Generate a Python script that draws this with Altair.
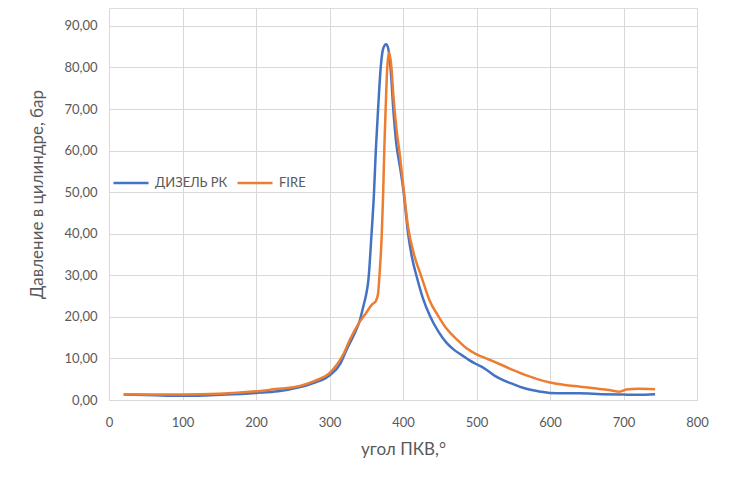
import altair as alt
import pandas as pd

# ДИЗЕЛЬ РК (blue)
diesel_x = [20, 50, 80, 100, 130, 160, 200, 230, 260, 280, 300, 315, 323, 333, 341, 346, 350, 353, 357, 360.5, 363, 366, 369.7, 373, 377, 380, 383, 387, 391, 396, 400.5, 407, 412, 418.6, 427, 436.7, 448, 459, 470, 480, 490, 500, 509, 525, 537, 550, 562, 575, 587, 600, 620, 640, 670, 700, 720, 743]
diesel_y = [1.3, 1.2, 1.05, 1.0, 1.1, 1.3, 1.7, 2.1, 3.1, 4.2, 5.9, 8.8, 12.0, 15.6, 19.0, 22.5, 25.5, 29.0, 39.4, 49.7, 60.0, 69.6, 80.0, 84.5, 85.6, 84.5, 80.0, 69.5, 61.5, 56.0, 50.5, 40.0, 34.5, 29.7, 24.5, 20.2, 16.5, 13.8, 12.0, 10.8, 9.6, 8.6, 7.8, 5.8, 4.7, 3.8, 3.0, 2.4, 2.0, 1.7, 1.6, 1.6, 1.4, 1.3, 1.25, 1.4]

# FIRE (orange)
fire_x = [20, 50, 100, 150, 200, 218, 222, 240, 260, 280, 300.7, 318.8, 328, 340, 350, 358, 363, 366, 368, 371, 373, 374.5, 376.3, 378.6, 381, 384, 387, 391.4, 396, 400.5, 407, 415, 425, 436, 448, 460, 473, 486, 500, 516, 532, 550, 570, 600, 620, 641, 660, 680, 695, 700, 704, 720, 743]
fire_y = [1.4, 1.35, 1.3, 1.5, 2.1, 2.4, 2.6, 2.8, 3.4, 4.6, 6.6, 11.0, 14.6, 18.5, 21.0, 23.0, 23.8, 25.5, 30.0, 39.4, 49.7, 60.0, 69.6, 80.0, 83.6, 80.5, 73.0, 64.8, 58.5, 51.3, 41.5, 35.0, 29.7, 24.0, 20.2, 17.0, 14.6, 12.5, 11.0, 9.8, 8.6, 7.2, 5.8, 4.2, 3.6, 3.2, 2.8, 2.4, 2.0, 2.3, 2.5, 2.7, 2.6]

series_names = ["ДИЗЕЛЬ РК", "FIRE"]
series_colors = ["#4472C4", "#ED7D31"]

x_ticks = [0, 100, 200, 300, 400, 500, 600, 700, 800]
y_ticks = [0, 10, 20, 30, 40, 50, 60, 70, 80, 90]

df = pd.concat([
    pd.DataFrame({"x": diesel_x, "y": diesel_y, "s": series_names[0], "o": 0}),
    pd.DataFrame({"x": fire_x, "y": fire_y, "s": series_names[1], "o": 1}),
])

FONT = "Lato"
GREY = "#595959"

chart = alt.Chart(df).mark_line(interpolate="monotone", strokeWidth=2.5).encode(
    x=alt.X("x:Q", scale=alt.Scale(domain=[0, 800], nice=False),
            axis=alt.Axis(values=x_ticks, format="d", title="угол ПКВ,°",
                          grid=True, gridColor="#d9d9d9", ticks=False,
                          domainColor="#d9d9d9", labelPadding=16, labelFlush=False,
                          labelFontSize=13, labelColor=GREY, labelFont=FONT,
                          titleFontSize=17, titleColor=GREY, titleFont=FONT,
                          titleFontWeight="normal", titlePadding=12)),
    y=alt.Y("y:Q", scale=alt.Scale(domain=[0, 94.3], nice=False, zero=True),
            axis=alt.Axis(values=y_ticks,
                          labelExpr="replace(format(datum.value, '.2f'), '.', ',')",
                          title="Давление в цилиндре, бар",
                          grid=True, gridColor="#d9d9d9", ticks=False,
                          domain=False, labelPadding=12,
                          labelFontSize=13, labelColor=GREY, labelFont=FONT,
                          titleFontSize=17, titleColor=GREY, titleFont=FONT,
                          titleFontWeight="normal",
                          titleX=-72, titleY=186, titleAlign="center",
                          titleBaseline="middle", titleAngle=-90)),
    color=alt.Color("s:N", scale=alt.Scale(domain=series_names, range=series_colors),
                    legend=alt.Legend(title=None, orient="none", legendX=3, legendY=156,
                                      direction="horizontal", symbolType="stroke",
                                      symbolSize=1225, symbolStrokeWidth=2.5,
                                      labelFontSize=13, labelColor=GREY, labelFont=FONT,
                                      columnPadding=4, labelOffset=5)),
    order="o:Q",
).properties(
    width=588, height=392,
    autosize=alt.AutoSizeParams(type="none"),
    padding={"left": 101, "top": 0, "right": 25, "bottom": 78},
).configure_view(stroke=None).configure(background="white")

chart.save("out.html", embed_options={"renderer": "svg", "actions": False})
